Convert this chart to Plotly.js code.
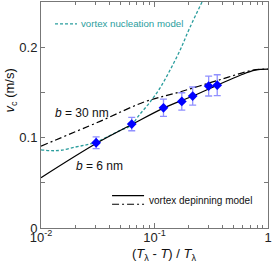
<!DOCTYPE html>
<html>
<head>
<meta charset="utf-8">
<script src="https://cdn.plot.ly/plotly-3.0.1.min.js"></script>
<style>html,body{margin:0;padding:0;background:#fff;}#chart{width:273px;height:267px;}</style>
</head>
<body>
<div id="chart"></div>
<script>
// Measured data (blue diamonds)
const dataX = [0.0306, 0.063, 0.12, 0.174, 0.217, 0.30, 0.357];
const dataY = [0.0943, 0.115, 0.133, 0.140, 0.146, 0.157, 0.158];
const dataErr = [0.0064, 0.0074, 0.0096, 0.0096, 0.010, 0.011, 0.0115];

// Vortex depinning model, b = 6 nm (solid)
const b6X = [0.01, 0.0306, 0.063, 0.12, 0.217, 0.357, 0.57, 0.77, 1.0];
const b6Y = [0.0556, 0.0934, 0.1144, 0.1326, 0.146, 0.158, 0.169, 0.1746, 0.1757];

// Vortex depinning model, b = 30 nm (dash-dot)
const b30X = [0.01, 0.0331, 0.082, 0.168, 0.377, 0.738, 1.0];
const b30Y = [0.0906, 0.118, 0.1396, 0.1506, 0.164, 0.1746, 0.1757];

// Vortex nucleation model (teal dashed)
const nucX = [0.01, 0.0125, 0.015, 0.02, 0.025, 0.0306, 0.04, 0.05, 0.0608, 0.0745, 0.0912, 0.1117, 0.137, 0.168, 0.2056, 0.267];
const nucY = [0.0865, 0.0855, 0.086, 0.0895, 0.092, 0.095, 0.102, 0.108, 0.1127, 0.126, 0.1392, 0.1547, 0.1746, 0.1967, 0.2221, 0.2519];

const xTickVals = [0.01, 0.1, 1];
const xTickText = ['10<sup>-2</sup>', '10<sup>-1</sup>', '1'];
const xMinorVals = [0.02,0.03,0.04,0.05,0.06,0.07,0.08,0.09,0.2,0.3,0.4,0.5,0.6,0.7,0.8,0.9];
const yTickVals = [0, 0.05, 0.1, 0.15, 0.2];
const yTickText = ['0', '', '0.1', '', '0.2'];

const FONT = 'Arial, Liberation Sans, Helvetica, sans-serif';
const TEAL = '#2a9d9d';

const traces = [
  {x: nucX, y: nucY, mode: 'lines', line: {color: TEAL, width: 1.3, dash: '3px,2px', shape: 'spline'}, hoverinfo: 'skip'},
  {x: b30X, y: b30Y, mode: 'lines', line: {color: '#000', width: 1.2, dash: '7px,3px,2px,3px', shape: 'spline'}, hoverinfo: 'skip'},
  {x: b6X, y: b6Y, mode: 'lines', line: {color: '#000', width: 1.2, shape: 'spline'}, hoverinfo: 'skip'},
  {x: dataX, y: dataY, mode: 'markers',
   marker: {symbol: 'diamond', size: 7.5, color: '#0000ff', line: {width: 0}},
   error_y: {type: 'data', array: dataErr, visible: true, color: 'rgba(70,70,255,0.6)', thickness: 1.3, width: 3.5}}
];

const layout = {
  width: 273, height: 267,
  margin: {l: 41, r: 5, t: 2, b: 39},
  paper_bgcolor: '#fff', plot_bgcolor: '#fff',
  showlegend: false,
  font: {family: FONT, size: 13, color: '#222'},
  xaxis: {
    type: 'log', range: [-2, 0], showgrid: false, zeroline: false,
    showline: true, linecolor: '#777', linewidth: 1, mirror: 'ticks',
    ticks: 'inside', ticklen: 5, tickcolor: '#777', tickwidth: 1,
    tickmode: 'array', tickvals: xTickVals, ticktext: xTickText,
    ticklabelstandoff: -3,
    tickfont: {family: FONT, size: 13, color: '#222'},
    minor: {tickmode: 'array', tickvals: xMinorVals, ticks: 'inside', ticklen: 3, tickcolor: '#777', showgrid: false}
  },
  yaxis: {
    range: [0, 0.25], showgrid: false, zeroline: false,
    showline: true, linecolor: '#777', linewidth: 1, mirror: 'ticks',
    ticks: 'inside', ticklen: 4, tickcolor: '#777', tickwidth: 1,
    tickmode: 'array', tickvals: yTickVals, ticktext: yTickText,
    tickfont: {family: FONT, size: 13, color: '#222'}
  },
  shapes: [
    {type: 'line', xref: 'paper', yref: 'paper', x0: 0.0617, x1: 0.1586, y0: 0.903, y1: 0.903, line: {color: TEAL, width: 1.3, dash: '3px,2px'}},
    {type: 'line', xref: 'paper', yref: 'paper', x0: 0.313, x1: 0.454, y0: 0.143, y1: 0.143, line: {color: '#000', width: 1.2}},
    {type: 'line', xref: 'paper', yref: 'paper', x0: 0.313, x1: 0.454, y0: 0.105, y1: 0.105, line: {color: '#000', width: 1.2, dash: '7px,3px,2px,3px'}}
  ],
  annotations: [
    {xref: 'paper', yref: 'paper', x: 0.167, y: 0.903, xanchor: 'left', yanchor: 'middle', showarrow: false,
     text: 'vortex nucleation model', font: {family: FONT, size: 9.7, color: TEAL}},
    {xref: 'paper', yref: 'paper', x: 0.466, y: 0.121, xanchor: 'left', yanchor: 'middle', showarrow: false,
     text: 'vortex depinning model', font: {family: FONT, size: 10, color: '#111'}},
    {xref: 'paper', yref: 'paper', x: 0.053, y: 0.509, xanchor: 'left', yanchor: 'middle', showarrow: false,
     text: '<i>b</i> = 30 nm', font: {family: FONT, size: 12, color: '#111'}},
    {xref: 'paper', yref: 'paper', x: 0.145, y: 0.274, xanchor: 'left', yanchor: 'middle', showarrow: false,
     text: '<i>b</i> = 6 nm', font: {family: FONT, size: 12, color: '#111'}},
    {xref: 'paper', yref: 'paper', x: -0.135, y: 0.61, xanchor: 'center', yanchor: 'middle', showarrow: false, textangle: -90,
     text: '<i>v</i><sub>c</sub> (m/s)', font: {family: FONT, size: 13, color: '#111'}},
    {xref: 'paper', yref: 'paper', x: 0.542, y: -0.118, xanchor: 'center', yanchor: 'middle', showarrow: false,
     text: '(<i>T</i><sub>λ</sub> - <i>T</i>) / <i>T</i><sub>λ</sub>', font: {family: FONT, size: 13, color: '#111'}}
  ]
};

Plotly.newPlot('chart', traces, layout, {displayModeBar: false, staticPlot: true});
</script>
</body>
</html>
